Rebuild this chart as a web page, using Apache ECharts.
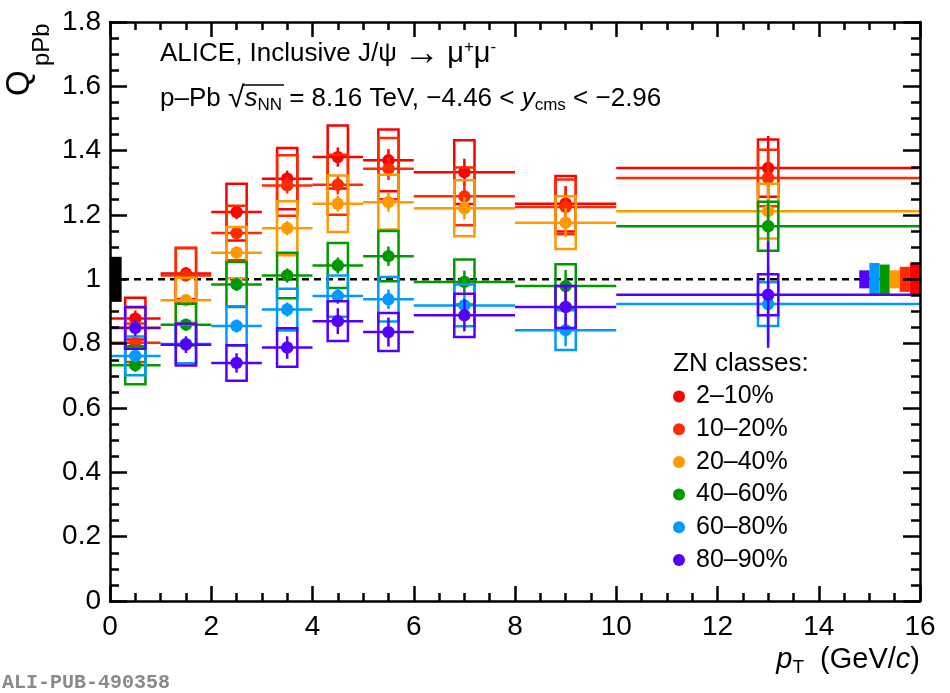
<!DOCTYPE html>
<html>
<head>
<meta charset="utf-8">
<script src="https://cdn.jsdelivr.net/npm/echarts@6/dist/echarts.min.js"></script>
<style>
  html, body { margin: 0; padding: 0; background: #fff; }
  #main { width: 950px; height: 693px; }
</style>
</head>
<body>
<div id="main"></div>
<script>
    // pT bins (GeV/c)
    var binCenter = [0.5, 1.5, 2.5, 3.5, 4.5, 5.5, 7, 9, 13];
    var binHalfWidth = [0.5, 0.5, 0.5, 0.5, 0.5, 0.5, 1, 1, 3];

    var classNames = ['2–10%', '10–20%', '20–40%', '40–60%', '60–80%', '80–90%'];

    // Q_pPb per ZN class
    var q2to10 = [0.878, 1.018, 1.209, 1.313, 1.380, 1.370, 1.333, 1.235, 1.346];
    var q10to20 = [0.803, 1.012, 1.144, 1.292, 1.294, 1.344, 1.258, 1.225, 1.315];
    var q20to40 = [0.850, 0.935, 1.083, 1.159, 1.235, 1.240, 1.221, 1.176, 1.212];
    var q40to60 = [0.733, 0.859, 0.984, 1.012, 1.043, 1.072, 0.992, 0.979, 1.165];
    var q60to80 = [0.762, 0.799, 0.855, 0.906, 0.948, 0.938, 0.919, 0.842, 0.923];
    var q80to90 = [0.849, 0.797, 0.740, 0.788, 0.870, 0.836, 0.888, 0.914, 0.952];

    // statistical uncertainties
    var stat2to10 = [0.025, 0.020, 0.022, 0.025, 0.030, 0.035, 0.042, 0.055, 0.100];
    var stat10to20 = [0.020, 0.018, 0.020, 0.025, 0.030, 0.035, 0.040, 0.050, 0.090];
    var stat20to40 = [0.020, 0.018, 0.020, 0.022, 0.025, 0.030, 0.035, 0.045, 0.080];
    var stat40to60 = [0.020, 0.018, 0.020, 0.022, 0.025, 0.030, 0.035, 0.050, 0.080];
    var stat60to80 = [0.020, 0.018, 0.020, 0.022, 0.025, 0.030, 0.035, 0.050, 0.120];
    var stat80to90 = [0.025, 0.026, 0.030, 0.035, 0.040, 0.045, 0.050, 0.070, 0.165];

    // uncorrelated systematic uncertainties (boxes)
    var syst2to10 = [0.065, 0.080, 0.088, 0.095, 0.098, 0.096, 0.099, 0.086, 0.089];
    var syst10to20 = [0.060, 0.085, 0.085, 0.094, 0.093, 0.095, 0.090, 0.085, 0.088];
    var syst20to40 = [0.062, 0.070, 0.080, 0.084, 0.088, 0.085, 0.087, 0.082, 0.085];
    var syst40to60 = [0.059, 0.065, 0.070, 0.071, 0.070, 0.078, 0.070, 0.068, 0.076];
    var syst60to80 = [0.060, 0.060, 0.061, 0.065, 0.064, 0.069, 0.065, 0.062, 0.068];
    var syst80to90 = [0.065, 0.065, 0.055, 0.060, 0.062, 0.059, 0.067, 0.065, 0.064];

    // correlated (global) uncertainties per class, and the common one
    var globalUnc = [0.052, 0.039, 0.028, 0.046, 0.051, 0.028];
    var commonUnc = 0.07;

    var FONT = '"Liberation Sans", Arial, Helvetica, sans-serif';
    var colors = ['#ff0000', '#ff2a00', '#ff9900', '#009900', '#0099ff', '#5500ff'];

    var values = [q2to10, q10to20, q20to40, q40to60, q60to80, q80to90];
    var stats = [stat2to10, stat10to20, stat20to40, stat40to60, stat60to80, stat80to90];
    var systs = [syst2to10, syst10to20, syst20to40, syst40to60, syst60to80, syst80to90];

    var chartDom = document.getElementById('main');
    var myChart = echarts.init(chartDom);

    // text width helper, used to put the bar over the square root
    var measureCtx = document.createElement('canvas').getContext('2d');
    function textWidth(str, font) {
        measureCtx.font = font;
        return measureCtx.measureText(str).width;
    }

    function renderPoint(params, api) {
        var x = api.value(0), y = api.value(1), hw = api.value(2);
        var st = api.value(3), sy = api.value(4);
        var color = api.visual('color');
        var c = api.coord([x, y]);
        var l = api.coord([x - hw, y]);
        var r = api.coord([x + hw, y]);
        var bl = api.coord([x - 0.2, y - sy]);
        var tr = api.coord([x + 0.2, y + sy]);
        var lo = api.coord([x, y - st]);
        var hi = api.coord([x, y + st]);
        var lw = 2.5;
        return {
            type: 'group',
            children: [
                { type: 'rect', shape: { x: bl[0], y: tr[1], width: tr[0] - bl[0], height: bl[1] - tr[1] },
                  style: { fill: 'none', stroke: color, lineWidth: lw } },
                { type: 'line', shape: { x1: l[0], y1: c[1], x2: r[0], y2: c[1] },
                  style: { stroke: color, lineWidth: lw } },
                { type: 'line', shape: { x1: c[0], y1: lo[1], x2: c[0], y2: hi[1] },
                  style: { stroke: color, lineWidth: lw } },
                { type: 'circle', shape: { cx: c[0], cy: c[1], r: 6.2 },
                  style: { fill: color } }
            ]
        };
    }

    function renderGlobal(params, api) {
        var idx = api.value(0), unc = api.value(1);
        var x0 = api.value(2), x1 = api.value(3);
        var a = api.coord([x0, 1 + unc]);
        var b = api.coord([x1, 1 - unc]);
        return {
            type: 'rect',
            shape: { x: a[0], y: a[1], width: b[0] - a[0], height: b[1] - a[1] },
            style: { fill: idx < 0 ? '#000' : colors[idx] }
        };
    }

    var series = [{
        name: 'unity',
        type: 'line',
        data: [[0, 1], [16, 1]],
        symbol: 'none',
        silent: true,
        z: 1,
        lineStyle: { color: '#000', width: 2.5, type: [7, 5] }
    }];

    // global uncertainty boxes at the right edge, common one at the left
    var globalData = [[-1, commonUnc, 0, 0.23]];
    globalUnc.forEach(function (u, i) {
        globalData.push([i, u, 16 - 0.2 * (i + 1), 16 - 0.2 * i]);
    });
    series.push({
        name: 'global',
        type: 'custom',
        renderItem: renderGlobal,
        data: globalData,
        encode: { x: 2, y: 1 },
        silent: true,
        z: 2
    });

    classNames.forEach(function (name, k) {
        var data = binCenter.map(function (x, i) {
            return [x, values[k][i], binHalfWidth[i], stats[k][i], systs[k][i]];
        });
        series.push({
            name: name,
            type: 'custom',
            renderItem: renderPoint,
            data: data,
            encode: { x: 0, y: 1 },
            itemStyle: { color: colors[k] },
            z: 3 + k
        });
    });

    var axisLineStyle = { color: '#000', width: 2.5 };

    function xAx(pos, showLabel) {
        return {
            type: 'value', min: 0, max: 16, interval: 2, position: pos, z: 10,
            axisLine: { show: true, onZero: false, lineStyle: axisLineStyle },
            axisTick: { show: true, inside: true, length: 15, lineStyle: axisLineStyle },
            minorTick: { show: true, splitNumber: 4, length: 8, lineStyle: axisLineStyle },
            axisLabel: { show: showLabel, fontSize: 28, fontFamily: FONT, color: '#000', margin: 12 },
            splitLine: { show: false }
        };
    }
    function yAx(pos, showLabel) {
        return {
            type: 'value', min: 0, max: 1.8, interval: 0.2, position: pos, z: 10,
            axisLine: { show: true, onZero: false, lineStyle: axisLineStyle },
            axisTick: { show: true, inside: true, length: 17, lineStyle: axisLineStyle },
            minorTick: { show: true, splitNumber: 4, length: 9, lineStyle: axisLineStyle },
            axisLabel: { show: showLabel, fontSize: 28, fontFamily: FONT, color: '#000', margin: 9 },
            splitLine: { show: false }
        };
    }

    // square root bar over s_NN
    var line2X = 160, line2Y = 84;
    var radStart = line2X + textWidth('p–Pb ', '26px ' + FONT) + textWidth('√', '30px ' + FONT) - 1;
    var radEnd = radStart + 1 + textWidth('s', 'italic 26px ' + FONT) + textWidth('NN', '17px ' + FONT) + 2;

    var option = {
        animation: false,
        backgroundColor: '#fff',
        grid: { left: 110, right: 30, top: 22, bottom: 92 },
        xAxis: [xAx('bottom', true), xAx('top', false)],
        yAxis: [yAx('left', true), yAx('right', false)],
        legend: {
            data: classNames,
            orient: 'vertical',
            left: 673,
            top: 384,
            padding: 0,
            itemWidth: 24,
            itemHeight: 12,
            itemGap: 7.7,
            icon: 'circle',
            selectedMode: false,
            textStyle: { fontSize: 25, lineHeight: 25, fontFamily: FONT, color: '#000' }
        },
        graphic: [
            {
                type: 'text', x: 160, y: 39,
                style: {
                    text: 'ALICE, Inclusive J/ψ {arr|→} {mu|μ}{sup|+}{mu|μ}{sup|-}',
                    fontSize: 26, fontFamily: FONT, lineHeight: 30, fill: '#000',
                    align: 'left', verticalAlign: 'top',
                    rich: {
                        arr: { fontSize: 36, fontFamily: FONT, lineHeight: 30, fill: '#000' },
                        mu: { fontSize: 29, fontFamily: FONT, lineHeight: 30, fill: '#000' },
                        sup: { fontSize: 17, fontFamily: FONT, lineHeight: 18, verticalAlign: 'top', fill: '#000' }
                    }
                }
            },
            {
                type: 'text', x: line2X, y: line2Y,
                style: {
                    text: 'p–Pb {rad|√}{i|s}{sub|NN} = 8.16 TeV, −4.46 < {i|y}{sub|cms} < −2.96',
                    fontSize: 26, fontFamily: FONT, lineHeight: 30, fill: '#000',
                    align: 'left', verticalAlign: 'top',
                    rich: {
                        rad: { fontSize: 30, fontFamily: FONT, lineHeight: 30, verticalAlign: 'bottom', fill: '#000' },
                        i: { fontSize: 26, fontFamily: FONT, fontStyle: 'italic', lineHeight: 30, fill: '#000' },
                        sub: { fontSize: 17, fontFamily: FONT, lineHeight: 10, verticalAlign: 'bottom', fill: '#000' }
                    }
                }
            },
            {
                type: 'line',
                shape: { x1: radStart, y1: line2Y + 1, x2: radEnd, y2: line2Y + 1 },
                style: { stroke: '#000', lineWidth: 1.5 }
            },
            {
                type: 'text', x: 3, y: 96, rotation: Math.PI / 2,
                style: {
                    text: 'Q', fontSize: 33, fontFamily: FONT, lineHeight: 33, fill: '#000',
                    align: 'left', verticalAlign: 'top'
                }
            },
            {
                type: 'text', x: 30, y: 66, rotation: Math.PI / 2,
                style: {
                    text: 'pPb', fontSize: 24, fontFamily: FONT, lineHeight: 24, fill: '#000',
                    align: 'left', verticalAlign: 'top'
                }
            },
            {
                type: 'text', x: 920, y: 643,
                style: {
                    text: '{i|p}{sub|T}  (GeV/{i|c})',
                    fontSize: 29, fontFamily: FONT, lineHeight: 34, fill: '#000',
                    align: 'right', verticalAlign: 'top',
                    rich: {
                        i: { fontSize: 29, fontFamily: FONT, fontStyle: 'italic', lineHeight: 34, fill: '#000' },
                        sub: { fontSize: 19, fontFamily: FONT, lineHeight: 13, verticalAlign: 'bottom', fill: '#000' }
                    }
                }
            },
            {
                type: 'text', x: 673, y: 351,
                style: {
                    text: 'ZN classes:', fontSize: 26, fontFamily: FONT, lineHeight: 26, fill: '#000',
                    align: 'left', verticalAlign: 'top'
                }
            },
            {
                type: 'text', x: 2, y: 682.5,
                style: {
                    text: 'ALI-PUB-490358', fontSize: 20, fontWeight: 'bold',
                    fontFamily: '"Liberation Mono", "DejaVu Sans Mono", monospace',
                    fill: '#8a8a8a', align: 'left', verticalAlign: 'middle'
                }
            }
        ],
        series: series
    };

    option && myChart.setOption(option);
</script>
</body>
</html>
